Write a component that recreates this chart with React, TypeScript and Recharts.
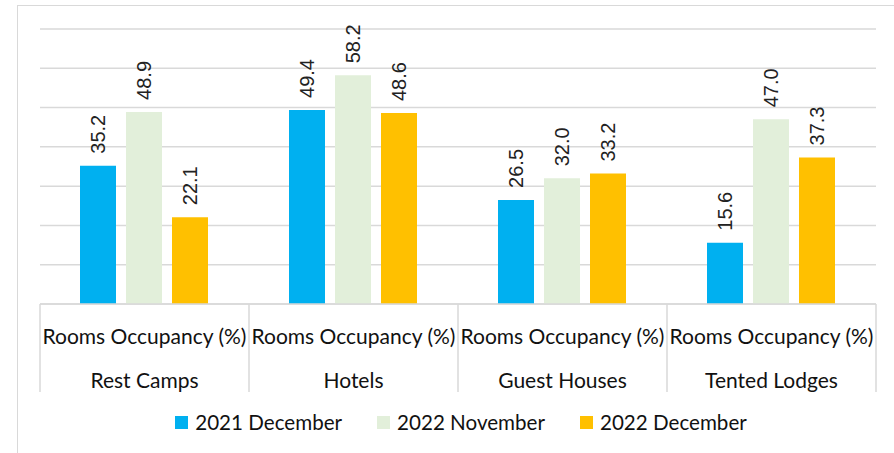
import { BarChart, Bar, XAxis, YAxis, CartesianGrid, Legend, LabelList } from 'recharts';

const categories = ['Rest Camps', 'Hotels', 'Guest Houses', 'Tented Lodges'];
const measure = 'Rooms Occupancy (%)';
const dec2021 = [35.2, 49.4, 26.5, 15.6];
const nov2022 = [48.9, 58.2, 32.0, 47.0];
const dec2022 = [22.1, 48.6, 33.2, 37.3];
const seriesNames = ['2021 December', '2022 November', '2022 December'];
const seriesColors = ['#00B0F0', '#E2EFDA', '#FFC000'];
const yTicks = [0, 10, 20, 30, 40, 50, 60, 70];

const data = categories.map((c, i) => ({
  category: c,
  d2021: dec2021[i],
  n2022: nov2022[i],
  d2022: dec2022[i],
}));

const W = 894;
const H = 453;
const margin = { top: 29, right: 18, left: 40, bottom: 54 };
const BAND = (W - margin.left - margin.right) / categories.length;
const GRID = '#d9d9d9';
const axisFont = 'Lato, "Open Sans", sans-serif';

function CategoryTick(props: any) {
  const { x, y, payload, index } = props;
  const half = BAND / 2;
  return (
    <g>
      <line x1={x - half} x2={x - half} y1={y} y2={y + 88} stroke={GRID} strokeWidth={1.5} />
      {index === categories.length - 1 && (
        <line x1={x + half} x2={x + half} y1={y} y2={y + 88} stroke={GRID} strokeWidth={1.5} />
      )}
      <text x={x} y={y + 31} textAnchor="middle" dominantBaseline="central" fontFamily={axisFont} fontSize={21} fill="#111">
        {measure}
      </text>
      <text x={x} y={y + 75} textAnchor="middle" dominantBaseline="central" fontFamily={axisFont} fontSize={21} fill="#111">
        {payload.value}
      </text>
    </g>
  );
}

function ValueLabel(props: any) {
  const { x, y, width, value } = props;
  const cx = x + width / 2;
  const ty = y - 12;
  return (
    <text
      x={cx}
      y={ty}
      transform={`rotate(-90 ${cx} ${ty})`}
      textAnchor="start"
      dominantBaseline="central"
      fontFamily='"Liberation Sans", Arial, sans-serif'
      fontSize={20}
      fill="#222"
    >
      {Number(value).toFixed(1)}
    </text>
  );
}

function LegendContent() {
  return (
    <div style={{ display: 'flex', justifyContent: 'center', paddingLeft: 28, fontFamily: axisFont, fontSize: 20.6, color: '#111' }}>
      {seriesNames.map((n, i) => (
        <div key={n} style={{ display: 'flex', alignItems: 'center', marginRight: i < seriesNames.length - 1 ? 35 : 0 }}>
          <span style={{ width: 13, height: 13, background: seriesColors[i], marginRight: 7, display: 'inline-block' }} />
          <span>{n}</span>
        </div>
      ))}
    </div>
  );
}

export default function App() {
  const keys = ['d2021', 'n2022', 'd2022'];
  return (
    <div style={{ position: 'absolute', left: 0, top: 0, width: W, height: H, overflow: 'hidden', background: '#fff' }}>
      <style>{`body{margin:0}`}</style>
      <div style={{ position: 'absolute', left: 17, top: 5, width: W, height: H, border: `1px solid ${GRID}` }} />
      <BarChart width={W} height={H} data={data} margin={margin} barCategoryGap={40} barGap={10}>
        <CartesianGrid vertical={false} stroke={GRID} strokeWidth={1.5} />
        <YAxis hide domain={[0, 70]} ticks={yTicks} />
        <XAxis
          dataKey="category"
          height={95}
          interval={0}
          tickLine={false}
          tickSize={0}
          tickMargin={0}
          axisLine={{ stroke: GRID, strokeWidth: 1.5 }}
          tick={<CategoryTick />}
        />
        <Legend
          verticalAlign="middle"
          content={<LegendContent />}
          wrapperStyle={{ top: 410, left: 0, width: W, height: 28 }}
        />
        {keys.map((k, i) => (
          <Bar key={k} dataKey={k} name={seriesNames[i]} fill={seriesColors[i]} isAnimationActive={false}>
            <LabelList dataKey={k} content={<ValueLabel />} />
          </Bar>
        ))}
      </BarChart>
    </div>
  );
}
